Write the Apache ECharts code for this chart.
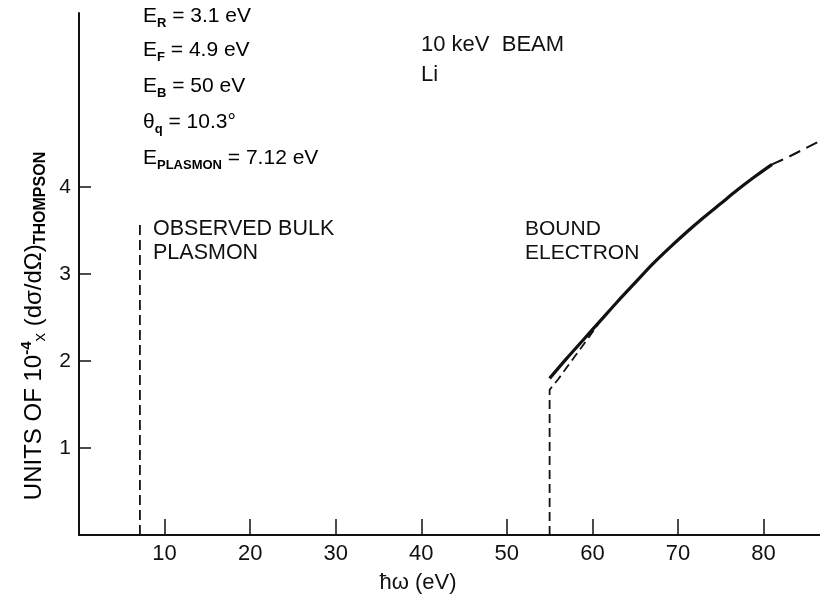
<!DOCTYPE html>
<html>
<head>
<meta charset="utf-8">
<script src="https://cdn.jsdelivr.net/npm/echarts@6/dist/echarts.min.js"></script>
<style>
html,body{margin:0;padding:0;background:#fff;}
#chart{width:820px;height:600px;}
</style>
</head>
<body>
<div id="chart"></div>
<script>
// ---- data ----
const xTickValues = [10, 20, 30, 40, 50, 60, 70, 80];
const yTickValues = [1, 2, 3, 4];
const plasmonEnergy = [7.12, 7.12];
const plasmonValue = [0, 3.6];
const boundSolidEnergy = [55, 57, 59, 61, 63, 65, 67, 69, 71, 73, 75, 77, 79, 81];
const boundSolidValue = [1.80, 2.03, 2.25, 2.47, 2.69, 2.90, 3.11, 3.30, 3.48, 3.65, 3.81, 3.97, 4.12, 4.26];
const boundOnsetEnergy = [55, 55, 56, 58, 60, 61];
const boundOnsetValue = [0, 1.67, 1.79, 2.06, 2.33, 2.47];
const boundTailEnergy = [81, 83, 85, 86.6];
const boundTailValue = [4.26, 4.35, 4.45, 4.53];
const paramLabels = [
  ['E', 'R', ' = 3.1 eV'],
  ['E', 'F', ' = 4.9 eV'],
  ['E', 'B', ' = 50 eV'],
  ['θ', 'q', ' = 10.3°'],
  ['E', 'PLASMON', ' = 7.12 eV']
];
const beamLabel = ['10 keV  BEAM', 'Li'];
const plasmonLabel = ['OBSERVED BULK', 'PLASMON'];
const boundLabel = ['BOUND', 'ELECTRON'];
const xAxisTitle = 'ħω (eV)';
const yAxisTitle = ['UNITS OF 10', '-4', 'x', ' (dσ/dΩ)', 'THOMPSON'];

const pair = (xs, ys) => xs.map((x, i) => [x, ys[i]]);
const FONT = 'Liberation Sans';
const INK = '#111';

const chart = echarts.init(document.getElementById('chart'), null, {renderer: 'canvas'});

const richBase = {
  m: {fontFamily: FONT, fontSize: 21, lineHeight: 24, color: INK, verticalAlign: 'top'},
  s: {fontFamily: FONT, fontSize: 13, fontWeight: 'bold', lineHeight: 13, color: INK, verticalAlign: 'bottom'}
};

const paramCenters = [18, 52, 88, 124, 160];
const graphics = [];
paramLabels.forEach((p, i) => {
  graphics.push({
    type: 'text', x: 143, y: paramCenters[i],
    style: {
      text: '{m|' + p[0] + '}{s|' + p[1] + '}{m|' + p[2] + '}',
      rich: richBase, verticalAlign: 'middle', align: 'left'
    }
  });
});
function plainText(str, x, y, align, size) {
  return {type: 'text', x: x, y: y, style: {text: str, fontFamily: FONT, fontSize: size || 21, fill: INK, align: align || 'left', verticalAlign: 'middle'}};
}
graphics.push(plainText(beamLabel[0], 421, 45, 'left', 22));
graphics.push(plainText(beamLabel[1], 421, 75, 'left', 22));
graphics.push(plainText(plasmonLabel[0], 153, 229, 'left', 21.5));
graphics.push(plainText(plasmonLabel[1], 153, 253, 'left', 21.5));
graphics.push(plainText(boundLabel[0], 525, 229, 'left', 21));
graphics.push(plainText(boundLabel[1], 525, 253, 'left', 21));
graphics.push(plainText(xAxisTitle, 418, 583, 'center', 22));
graphics.push({
  type: 'text', x: 34, y: 326, rotation: Math.PI / 2,
  style: {
    text: '{m|' + yAxisTitle[0] + '}{sup|' + yAxisTitle[1] + '}{x|' + yAxisTitle[2] + '}{m|' + yAxisTitle[3] + '}{sub|' + yAxisTitle[4] + '}',
    align: 'center', verticalAlign: 'middle',
    rich: {
      m: {fontFamily: FONT, fontSize: 24, lineHeight: 30, color: INK, verticalAlign: 'middle'},
      sup: {fontFamily: FONT, fontSize: 15, fontWeight: 'bold', lineHeight: 15, color: INK, verticalAlign: 'top'},
      x: {fontFamily: FONT, fontSize: 17, lineHeight: 24, color: INK, verticalAlign: 'bottom'},
      sub: {fontFamily: FONT, fontSize: 16, fontWeight: 'bold', lineHeight: 16, color: INK, verticalAlign: 'bottom'}
    }
  }
});

const option = {
  animation: false,
  backgroundColor: '#fff',
  grid: {left: 79, right: 0, top: 13, bottom: 65, containLabel: false},
  xAxis: {
    type: 'value', min: 0, max: 86.6, interval: 10,
    axisLine: {show: true, lineStyle: {color: INK, width: 2}},
    axisTick: {show: true, inside: true, length: 16, lineStyle: {color: INK, width: 1.5}, customValues: xTickValues},
    axisLabel: {show: true, customValues: xTickValues, margin: 8, fontFamily: FONT, fontSize: 22, color: INK},
    splitLine: {show: false}
  },
  yAxis: {
    type: 'value', min: 0, max: 6, interval: 1,
    axisLine: {show: true, lineStyle: {color: INK, width: 2}},
    axisTick: {show: true, inside: true, length: 12, lineStyle: {color: INK, width: 1.5}, customValues: yTickValues},
    axisLabel: {show: true, customValues: yTickValues, margin: 8, fontFamily: FONT, fontSize: 21, color: INK},
    splitLine: {show: false}
  },
  series: [
    {type: 'line', data: pair(plasmonEnergy, plasmonValue), symbol: 'none', lineStyle: {color: INK, width: 1.8, type: [10, 5]}},
    {type: 'line', data: pair(boundOnsetEnergy, boundOnsetValue), symbol: 'none', lineStyle: {color: INK, width: 1.8, type: [9, 5]}},
    {type: 'line', data: pair(boundTailEnergy, boundTailValue), symbol: 'none', smooth: 0.3, lineStyle: {color: INK, width: 2, type: [12, 7]}},
    {type: 'line', data: pair(boundSolidEnergy, boundSolidValue), symbol: 'none', smooth: 0.3, lineStyle: {color: INK, width: 3.2}}
  ],
  graphic: graphics
};
chart.setOption(option);
</script>
</body>
</html>
